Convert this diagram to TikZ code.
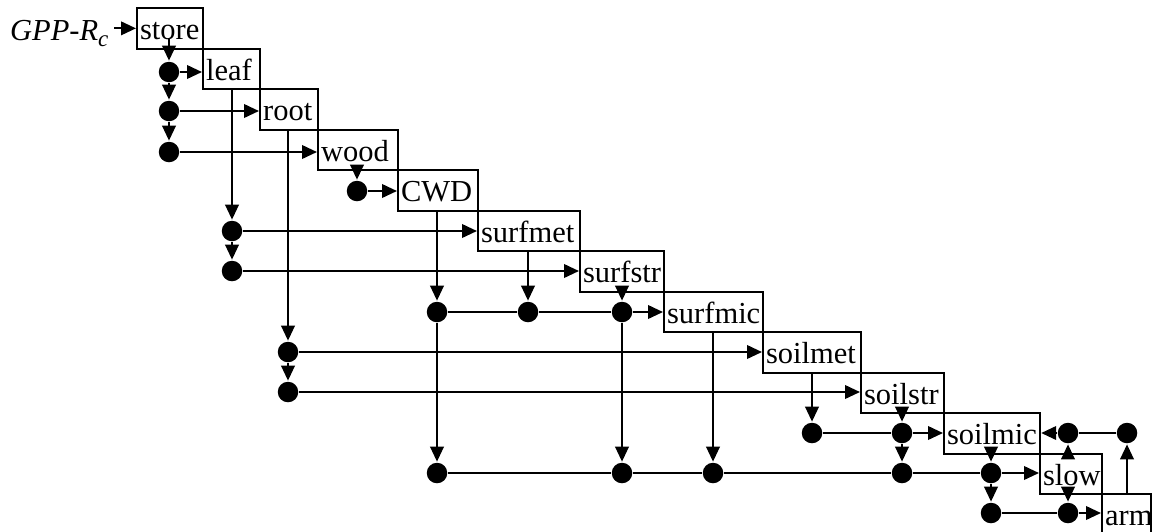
\documentclass[tikz,border=0pt]{standalone}
\usepackage{fontspec}
\setmainfont{Liberation Serif}
\usetikzlibrary{arrows.meta,calc}
\begin{document}
\begin{tikzpicture}[x=1pt,y=-1pt, line width=2.2pt,
  box/.style={draw, rectangle, anchor=north west, minimum height=40.5pt,
    inner xsep=3pt, inner ysep=0pt, text height=25pt, text depth=2pt,
    align=left, font=\fontsize{30.5}{36}\selectfont},
  dot/.style={circle, fill, inner sep=0pt, minimum size=20.5pt},
  arr/.style={-{Triangle[length=15pt,width=13.5pt]}}]
\useasboundingbox (0,0) rectangle (1156,531);

% boxes
\node[box, text width=60pt] (store)   at (136,7)     {store};
\node[box, text width=51pt] (leaf)    at (202,47.5)  {leaf};
\node[box, text width=52pt] (root)    at (259,88)    {root};
\node[box, text width=74pt] (wood)    at (317,128.5) {wood};
\node[box, text width=74pt] (CWD)     at (397,169)   {CWD};
\node[box, text width=96pt] (surfmet) at (477,209.5) {surfmet};
\node[box, text width=78pt] (surfstr) at (579,250)   {surfstr};
\node[box, text width=93pt] (surfmic) at (663,290.5) {surfmic};
\node[box, text width=92pt] (soilmet) at (762,331)   {soilmet};
\node[box, text width=77pt] (soilstr) at (860,371.5) {soilstr};
\node[box, text width=90pt] (soilmic) at (943,412)   {soilmic};
\node[box, text width=56pt] (slow)    at (1039,452.5){slow};
\node[box, text width=43pt] (arm)     at (1101,493)  {arm};

% input label
\node[anchor=base west, inner sep=0pt, font=\fontsize{30.5}{36}\selectfont] (gpp) at (9,40)
  {\itshape GPP-R\raisebox{-6pt}{\fontsize{23}{23}\selectfont c}};

% dots
\node[dot] (A1) at (169,72) {};
\node[dot] (A2) at (169,111) {};
\node[dot] (A3) at (169,152) {};
\node[dot] (W1) at (357,191) {};
\node[dot] (B1) at (232,231) {};
\node[dot] (B2) at (232,271) {};
\node[dot] (C1) at (437,312) {};
\node[dot] (C2) at (528,312) {};
\node[dot] (C3) at (622,312) {};
\node[dot] (D1) at (288,352) {};
\node[dot] (D2) at (288,392) {};
\node[dot] (F1) at (812,433) {};
\node[dot] (F2) at (902,433) {};
\node[dot] (H1) at (1068,433) {};
\node[dot] (H2) at (1127,433) {};
\node[dot] (E1) at (437,473) {};
\node[dot] (E2) at (622,473) {};
\node[dot] (E3) at (713,473) {};
\node[dot] (E4) at (902,473) {};
\node[dot] (E5) at (991,473) {};
\node[dot] (G1) at (991,513) {};
\node[dot] (G2) at (1068,513) {};

% input arrow
\draw[arr] ($(gpp.east |- store.west)+(5pt,0pt)$) -- (store.west);

% store splits
\draw[arr] ($(A1 |- store.south)+(0pt,12pt)$) -- (A1);
\draw[arr] (A1) -- (A2);
\draw[arr] (A2) -- (A3);
\draw[arr] (A1) -- (A1 -| leaf.west);
\draw[arr] (A2) -- (A2 -| root.west);
\draw[arr] (A3) -- (A3 -| wood.west);

% wood -> CWD
\draw[arr] ($(W1 |- wood.south)+(0pt,3pt)$) -- (W1);
\draw[arr] (W1) -- (W1 -| CWD.west);

% leaf litter
\draw[arr] (B1 |- leaf.south) -- (B1);
\draw[arr] (B1) -- (B2);
\draw[arr] (B1) -- (B1 -| surfmet.west);
\draw[arr] (B2) -- (B2 -| surfstr.west);

% root litter
\draw[arr] (D1 |- root.south) -- (D1);
\draw[arr] (D1) -- (D2);
\draw[arr] (D1) -- (D1 -| soilmet.west);
\draw[arr] (D2) -- (D2 -| soilstr.west);

% surface pools -> surfmic
\draw[arr] (C1 |- CWD.south) -- (C1);
\draw[arr] (C2 |- surfmet.south) -- (C2);
\draw[arr] ($(C3 |- surfstr.south)+(0pt,4pt)$) -- (C3);
\draw (C1) -- (C2);
\draw (C2) -- (C3);
\draw[arr] (C3) -- (C3 -| surfmic.west);

% soil pools -> soilmic
\draw[arr] (F1 |- soilmet.south) -- (F1);
\draw[arr] ($(F2 |- soilstr.south)+(0pt,5pt)$) -- (F2);
\draw (F1) -- (F2);
\draw[arr] (F2) -- (F2 -| soilmic.west);

% -> slow
\draw[arr] (C1) -- (E1);
\draw[arr] (C3) -- (E2);
\draw[arr] (E3 |- surfmic.south) -- (E3);
\draw[arr] (F2) -- (E4);
\draw[arr] ($(E5 |- soilmic.south)+(0pt,5pt)$) -- (E5);
\draw (E1) -- (E2);
\draw (E2) -- (E3);
\draw (E3) -- (E4);
\draw (E4) -- (E5);
\draw[arr] (E5) -- (E5 -| slow.west);

% -> arm
\draw[arr] (E5) -- (G1);
\draw[arr] ($(G2 |- slow.south)+(0pt,5pt)$) -- (G2);
\draw (G1) -- (G2);
\draw[arr] (G2) -- (G2 -| arm.west);

% back to soilmic
\draw[arr] ($(H1 |- slow.north)+(0pt,-4pt)$) -- (H1);
\draw[arr] (H2 |- arm.north) -- (H2);
\draw (H2) -- (H1);
\draw[arr] (H1) -- (H1 -| soilmic.east);
\end{tikzpicture}
\end{document}
